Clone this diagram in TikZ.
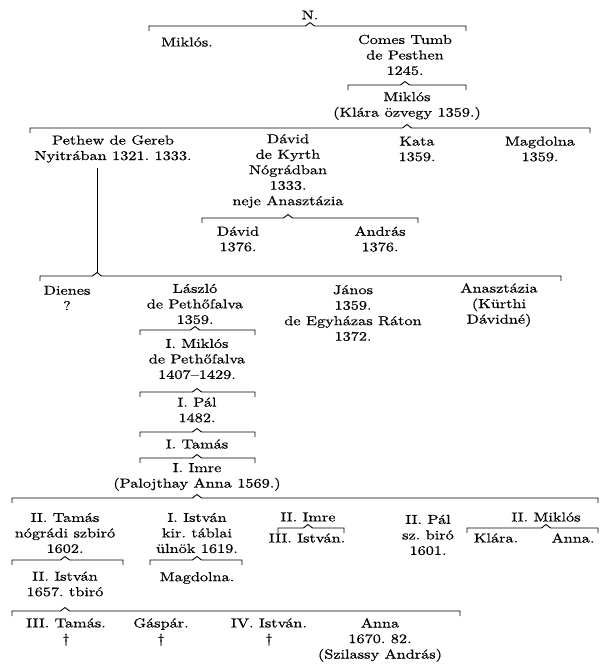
\documentclass[tikz,border=0pt]{standalone}
\usepackage{fontspec}
\setmainfont{lmroman10-regular.otf}[FakeStretch=1.25,FakeBold=0.6]
\usetikzlibrary{calc}

\begin{document}
\frenchspacing
\begin{tikzpicture}[x=1pt,y=-1pt,
  person/.style={align=center,inner sep=0pt,font=\fontsize{13}{15.5}\selectfont},
  famline/.style={line width=0.9pt}]
\useasboundingbox (0,0) rectangle (611,672);
% first generations
\node[person] (n) at (310,15){N.};
\node[person] (mk1) at (187,42){Miklós.};
\node[person] (ct) at (405,55){Comes Tumb\\de Pesthen\\1245.};
\node[person] (mk2) at (407,106){Miklós\\(Klára özvegy 1359.)};
\node[person] (pg) at (113,149){Pethew de Gereb\\Nyitrában 1321. 1333.};
\node[person] (dk) at (288,171){Dávid\\de Kyrth\\Nógrádban\\1333.\\neje Anasztázia};
\node[person] (kt) at (417,149){Kata\\1359.};
\node[person] (mg) at (540,149){Magdolna\\1359.};
\node[person] (dv) at (238,239){Dávid\\1376.};
\node[person] (ad) at (380,239){András\\1376.};
\coordinate (pgfoot) at (97,276);
% Pethew's line
\node[person] (dn) at (67,298){Dienes\\?};
\node[person] (lz) at (195,304){László\\de Pethőfalva\\1359.};
\node[person] (jn) at (353,313){János\\1359.\\de Egyházas Ráton\\1372.};
\node[person] (az) at (499,305){Anasztázia\\(Kürthi\\Dávidné)};
\node[person] (m1) at (197,359){I. Miklós\\de Pethőfalva\\1407--1429.};
\node[person] (p1) at (197,410){I. Pál\\1482.};
\node[person] (t1) at (197,444){I. Tamás};
\node[person] (i1) at (197,477){I. Imre\\(Palojthay Anna 1569.)};
% children of I. Imre
\node[person] (t2) at (65,533){II. Tamás\\nógrádi szbiró\\1602.};
\node[person] (i2) at (197,533){I. István\\kir. táblai\\ülnök 1619.};
\node[person] (im2) at (308,517){II. Imre};
\node[person] (s3) at (307,538){III. István.};
\node[person] (p2) at (428,535){II. Pál\\sz. biró\\1601.};
\node[person] (mk3) at (546,517){II. Miklós};
\node[person] (kl) at (496,538){Klára.};
\node[person] (an2) at (573,538){Anna.};
\node[person] (s2) at (65,584){II. István\\1657. tbiró};
\node[person] (mg2) at (197,578){Magdolna.};
\node[person] (t3) at (66,632){III. Tamás.\\†};
\node[person] (gs) at (161,632){Gáspár.\\†};
\node[person] (s4) at (269,632){IV. István.\\†};
\node[person] (ann) at (380,640){Anna\\1670. 82.\\(Szilassy András)};
% brackets
\draw[famline] ([yshift=-5pt]pg.south -| pgfoot) -- ([yshift=3.5pt]pgfoot);
\foreach \p/\y/\xa/\xb in {n/26/149/466, ct/85/348/466, mk2/128/30/590,
    dk/218/202/418, pgfoot/276/40/561, lz/330/140/255, m1/392/140/255,
    p1/432/140/255, t1/458/140/255, i1/498/12/598, t2/560/12/123,
    i2/560/150/242, im2/528/278/344, mk3/528/467/598, s2/611/12/460}
  \draw[famline] (\xa,\y+5) -- (\xa,\y) -- ($(\p |- 0,\y)+(-4.5,0)$)
    -- ++(4.5,-3.5) -- ++(4.5,3.5) -- (\xb,\y) -- (\xb,\y+5);
\end{tikzpicture}
\end{document}
